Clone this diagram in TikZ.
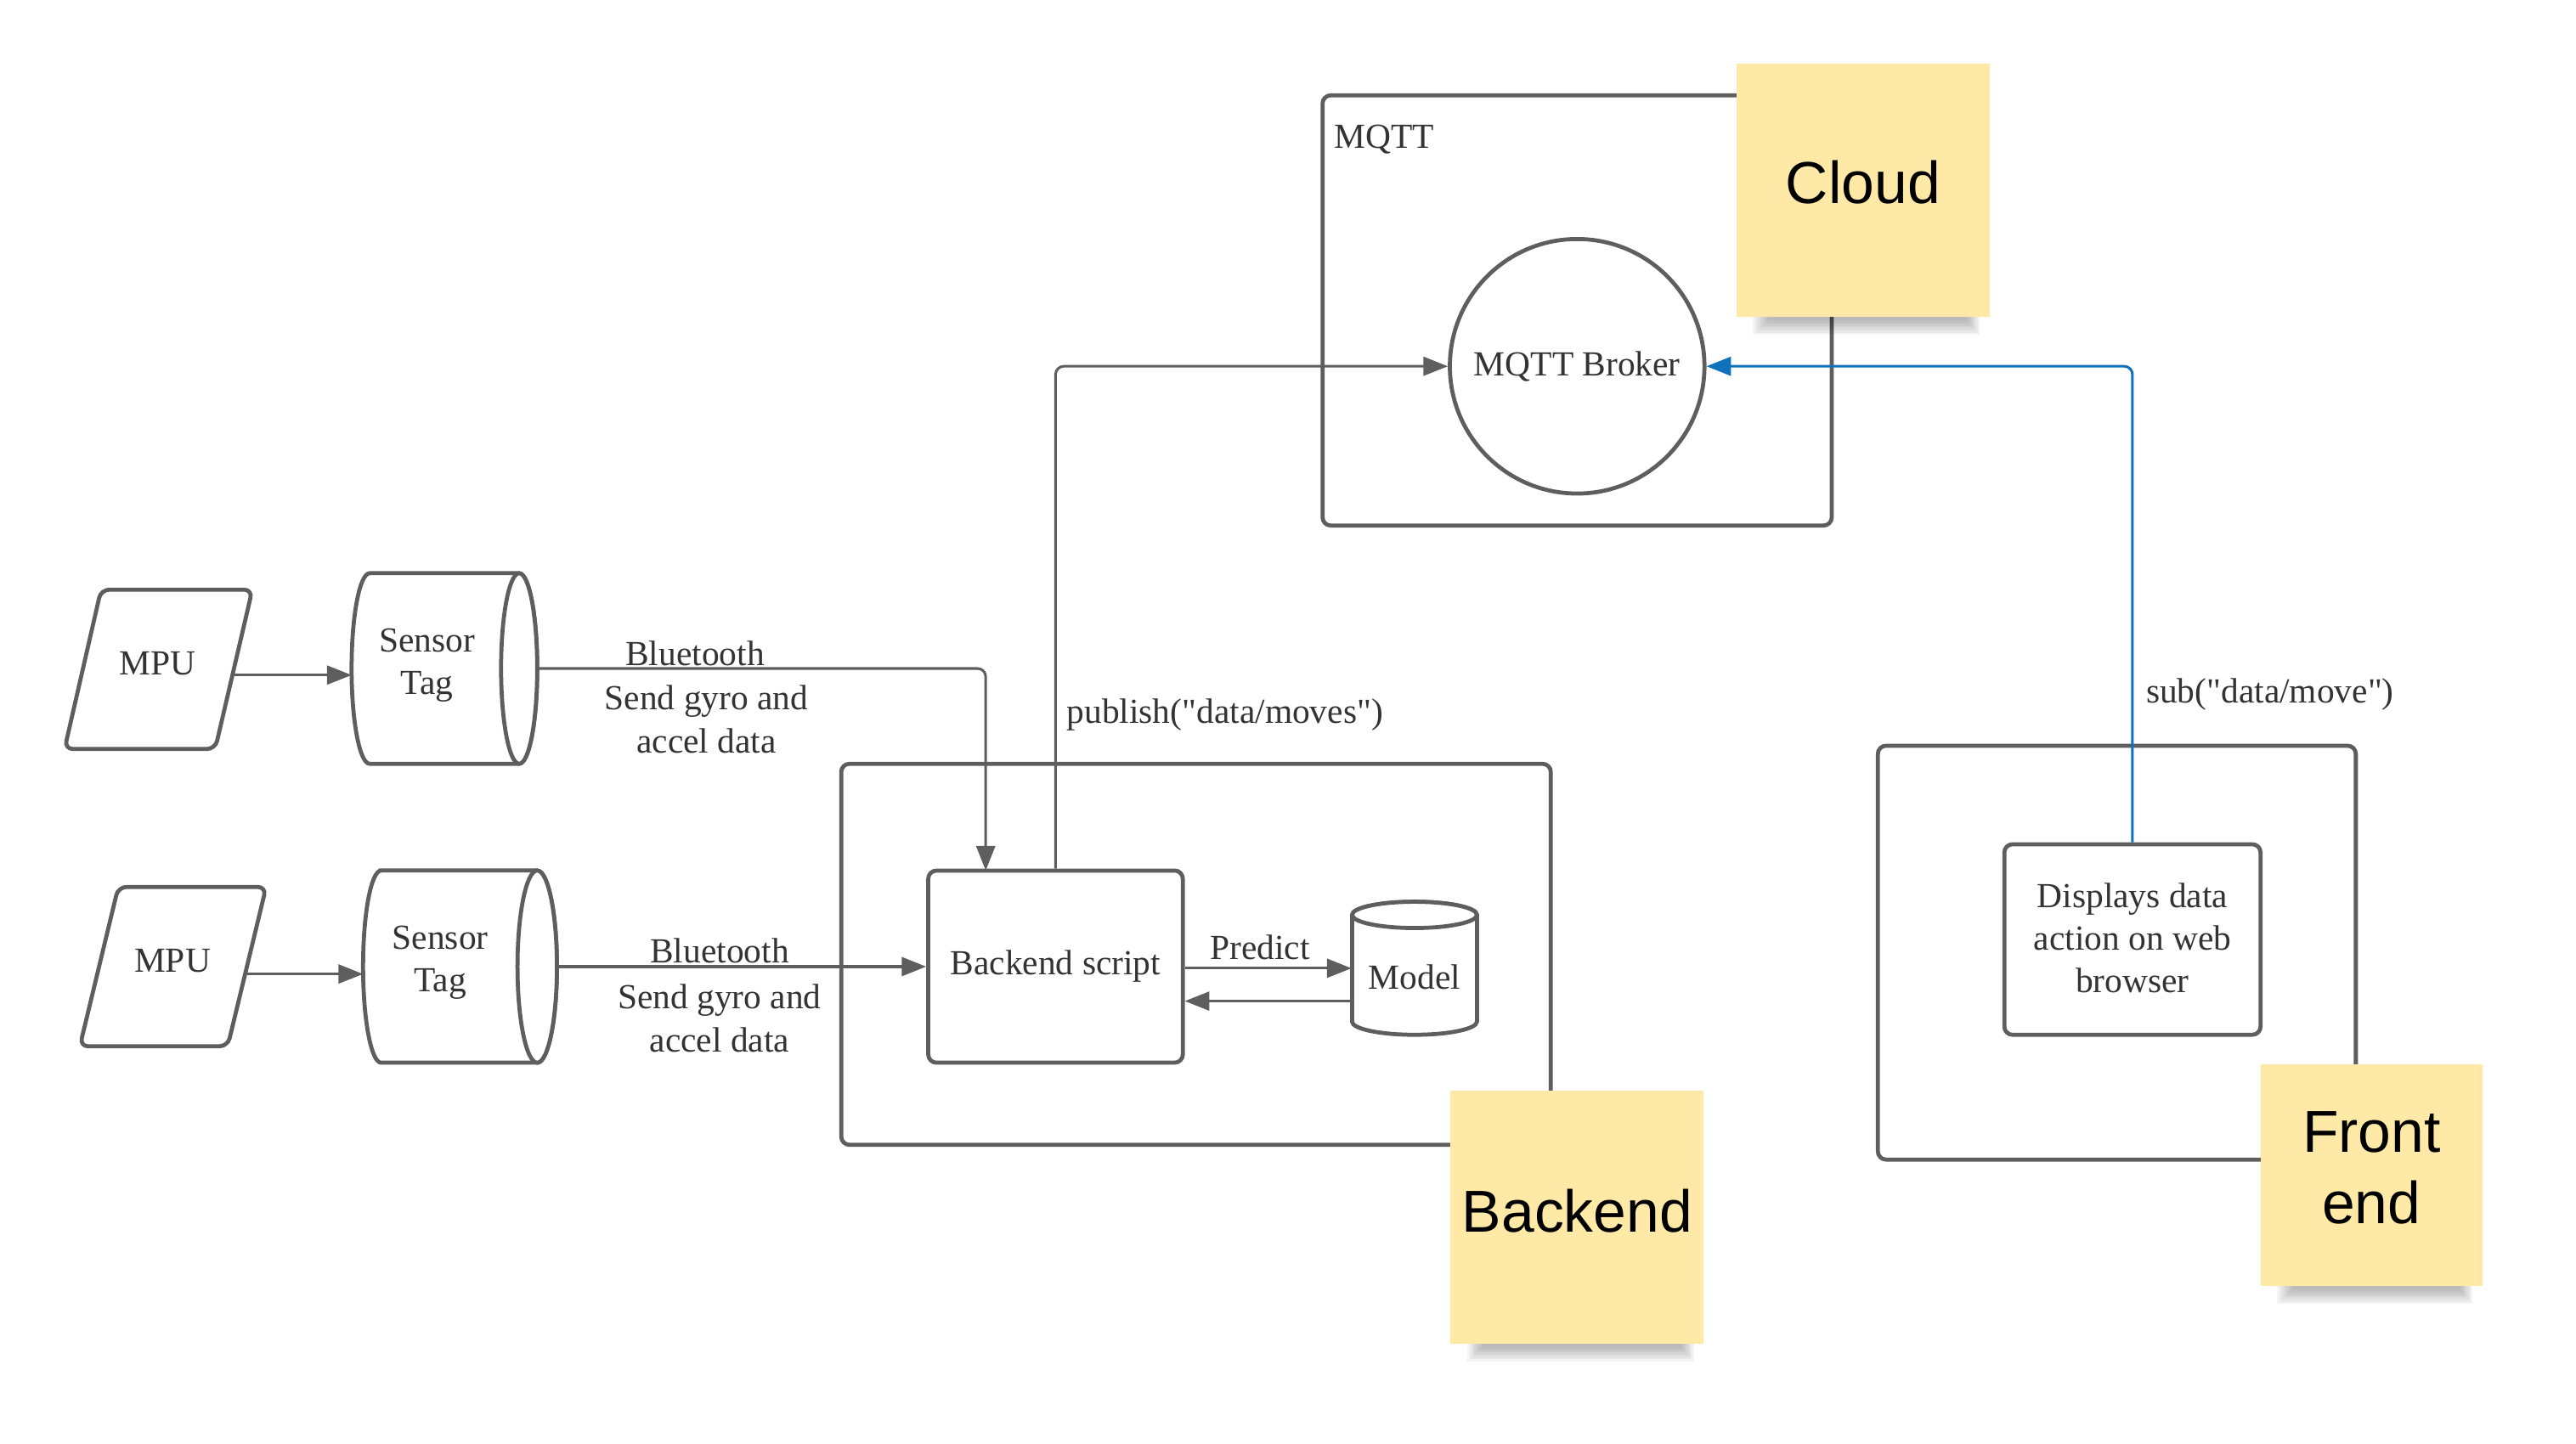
\documentclass[tikz,border=0pt]{standalone}
\usepackage{fontspec}
\setmainfont{Liberation Serif}
\newfontfamily\plainserif{Liberation Serif}[Ligatures=TeXOff]
\newfontfamily\stickyfont{Liberation Sans}
\usetikzlibrary{arrows.meta}
\definecolor{ln}{RGB}{94,94,94}
\definecolor{tx}{RGB}{51,51,51}
\definecolor{stickyc}{RGB}{254,234,166}
\definecolor{bl}{RGB}{16,114,186}
\newcommand\stickyshadow[3]{% x1, x2, y (bottom)
  \foreach \i in {0,...,6}{
    \fill[black, opacity=0.045] (#1+10+\i*1.5, #3) rectangle (#2-6-\i*1.2, #3+11-\i*1.4);
  }
}
\begin{document}
\begin{tikzpicture}[x=0.02cm, y=-0.02cm,
  shapebox/.style={draw=ln, line width=1.4pt, fill=white, rounded corners=0.1cm},
  cyl/.style={draw=ln, line width=1.4pt, fill=white},
  grp/.style={draw=ln, line width=1.4pt, rounded corners=0.1cm},
  conn/.style={draw=ln, line width=0.9pt, rounded corners=0.1cm, -{Triangle[length=8.5pt,width=6.5pt]}},
  lbl/.style={text=tx, font=\fontsize{12.2}{14.8}\selectfont, inner sep=0pt, align=center},
  qlbl/.style={text=tx, font=\plainserif\fontsize{12.2}{14.8}\selectfont, inner sep=0pt, align=center},
  sticky/.style={fill=stickyc, minimum size=3.08cm, inner sep=0pt},
  stickytext/.style={font=\stickyfont\fontsize{20.5}{24.5}\selectfont, align=center, text=black, inner sep=0pt}
]
\useasboundingbox (0,0) rectangle (1568,879);

% ---------- containers ----------
\node[grp, minimum width=8.64cm, minimum height=4.64cm] (bgrp) at (728,581) {};
\node[grp, minimum width=6.2cm, minimum height=5.24cm] (mgrp) at (960,189) {};
\node[grp, minimum width=5.82cm, minimum height=5.04cm] (fgrp) at (1288.5,580) {};
\node[lbl, anchor=west] (mqttlbl) at (812,85) {MQTT};

% ---------- nodes ----------
\node[shapebox, lbl, minimum width=3.1cm, minimum height=2.34cm] (bs) at (642.5,588.5) {Backend script};
\node[draw=ln, line width=1.4pt, fill=white, circle, minimum size=3.1cm, lbl] (broker) at (960,223) {MQTT Broker};
\node[shapebox, lbl, minimum width=3.12cm, minimum height=2.32cm] (disp) at (1298,572) {};
\node[lbl] (disptxt) at (1298,571) {Displays data\\action on web\\browser};
\node[minimum width=1.52cm, minimum height=1.62cm, inner sep=0pt] (model) at (861,589.5) {};

% connector end points
\coordinate (m1e) at (142,411);
\coordinate (st1w) at (214,411);
\coordinate (st1e) at (327,407);
\coordinate (bsin) at (600,530);
\coordinate (m2e) at (149,593);
\coordinate (st2w) at (221,593);
\coordinate (st2e) at (339,588.5);

% ---------- connectors ----------
\draw[conn] (m1e) -- (st1w);
\draw[conn] (m2e) -- (st2w);
\draw[conn] (st1e) -| (bsin);
\draw[conn] (st2e) -- (bs.west);
\draw[conn] (bs.north) |- (broker.west);
\draw[conn, draw=bl] (disp.north) |- (broker.east);
\draw[conn] (bs.east |- model.west) -- (model.west);
\draw[conn] ([yshift=-0.4cm]model.west) -- ([yshift=-0.4cm]bs.east |- model.west);

% ---------- shapes ----------
% MPU parallelograms
\draw[shapebox] (61.5,359) -- (153.6,359) -- (131,456) -- (39.3,456) -- cycle;
\node[lbl] (mpu1) at (96,404) {MPU};
\draw[shapebox] (72,540) -- (162,540) -- (138.6,637) -- (48.6,637) -- cycle;
\node[lbl] (mpu2) at (105,585) {MPU};

% Sensor tag cylinders
\draw[cyl] (225,349) -- (316,349) arc (-90:90:11 and 58) -- (225,465) arc (90:270:11 and 58) -- cycle;
\draw[cyl] (316,407) ellipse (11 and 58);
\node[lbl] (st1) at (260,405) {Sensor\\Tag};

\draw[cyl] (232,530) -- (327,530) arc (-90:90:12 and 58.5) -- (232,647) arc (90:270:11 and 58.5) -- cycle;
\draw[cyl] (327,588.5) ellipse (12 and 58.5);
\node[lbl] (st2) at (268,586) {Sensor\\Tag};

% Model cylinder
\draw[cyl] (823,557) -- (823,622) arc (180:0:38 and 8) -- (899,557) arc (0:-180:38 and 8) -- cycle;
\draw[cyl] (861,557) ellipse (38 and 8);
\node[lbl] (modeltxt) at (861,595) {Model};

% ---------- labels ----------
\node[lbl] (bt1) at (423,398) {Bluetooth};
\node[lbl] (sg1) at (430,438) {Send gyro and\\accel data};
\node[lbl] (bt2) at (438,579) {Bluetooth};
\node[lbl] (sg2) at (438,620) {Send gyro and\\accel data};
\node[lbl] (pred) at (767,577) {Predict};
\node[qlbl, anchor=west] (pub) at (649,435) {publish("data/moves")};
\node[qlbl, anchor=west] (sub) at (1306,423) {sub("data/move")};

% ---------- sticky notes ----------
\stickyshadow{1057}{1211}{193}
\node[sticky] (cloud) at (1134,116) {};
\node[stickytext] (cloudtxt) at (1134,111) {Cloud};

\stickyshadow{883}{1037}{818}
\node[sticky] (backend) at (960,741) {};
\node[stickytext] (backendtxt) at (960,737) {Backend};

\stickyshadow{1376}{1511}{783}
\node[sticky, minimum size=2.7cm] (front) at (1443.5,715.5) {};
\node[stickytext] (fronttxt) at (1443.5,711) {Front\\end};
\end{tikzpicture}
\end{document}
